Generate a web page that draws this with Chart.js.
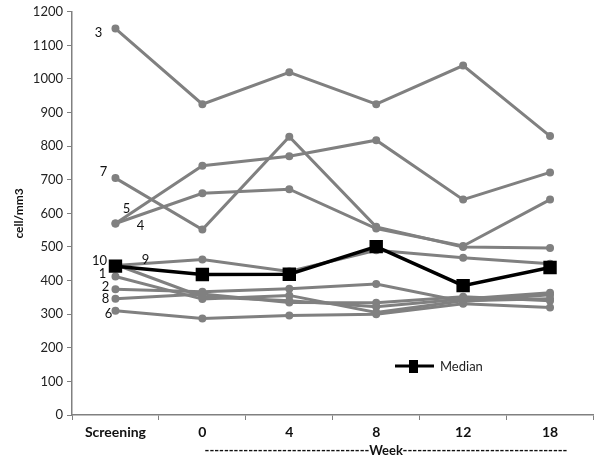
<!DOCTYPE html>
<html>
<head>
<meta charset="utf-8">
<script src="https://cdn.jsdelivr.net/npm/chart.js"></script>
<style>
  html, body { margin: 0; padding: 0; background: #fff; }
  #wrap { position: relative; width: 604px; height: 461px; }
</style>
</head>
<body>
<div id="wrap"><canvas id="chart"></canvas></div>
<script>
const weeks = ["Screening", "0", "4", "8", "12", "18"];

// one series per patient, cell/mm3
const patient3 = [1150, 925, 1020, 925, 1040, 830];
const patient7 = [705, 552, 828, 560, 500, 497];
const patient5 = [570, 742, 770, 818, 641, 722];
const patient4 = [570, 660, 672, 555, 503, 641];
const patient9 = [445, 463, 427, 490, 468, 450];
const patient10 = [448, 352, 340, 322, 345, 364];
const patient1 = [412, 345, 356, 305, 340, 346];
const patient2 = [374, 367, 376, 390, 338, 358];
const patient8 = [346, 360, 335, 334, 352, 340];
const patient6 = [310, 287, 296, 300, 331, 320];
const median = [443, 418, 419, 501, 385, 439];

const yTicks = { min: 0, max: 1200, step: 100 };

const gray = "#808080";
const font = "Lato, 'Open Sans', sans-serif";
const dashes = "-".repeat(34);

// where each patient number sits relative to its first point
const tagOffsets = {
  "3": [-17, 4], "7": [-12, -6], "5": [11, -15], "4": [25, 2],
  "10": [-16, -4], "9": [30, -6], "1": [-13, -3], "2": [-10, -3],
  "8": [-10, 0], "6": [-7, 3]
};

function patient(label, values) {
  return {
    label: label,
    data: values,
    borderColor: gray,
    backgroundColor: gray,
    borderWidth: 3,
    pointRadius: 2.5,
    pointHoverRadius: 2.5,
    tension: 0,
    order: 2
  };
}

const tagPlugin = {
  id: "tags",
  afterDatasetsDraw(chart) {
    const ctx = chart.ctx;
    ctx.save();
    ctx.font = "13px " + font;
    ctx.fillStyle = "#111";
    ctx.textAlign = "center";
    ctx.textBaseline = "middle";
    chart.data.datasets.forEach(function (ds, i) {
      const off = tagOffsets[ds.label];
      if (!off) return;
      const pt = chart.getDatasetMeta(i).data[0];
      ctx.fillText(ds.label, pt.x + off[0], pt.y + off[1]);
    });

    // x axis title, sits right of centre in the original
    ctx.font = "bold 13px " + font;
    ctx.fillText(dashes + "Week" + dashes, 386, 451);

    // legend box for the median
    const lx = 395, ly = 366;
    ctx.strokeStyle = "#000";
    ctx.lineWidth = 3;
    ctx.beginPath();
    ctx.moveTo(lx, ly);
    ctx.lineTo(lx + 39, ly);
    ctx.stroke();
    ctx.fillStyle = "#000";
    ctx.fillRect(lx + 14, ly - 6, 9, 13);
    ctx.fillStyle = "#222";
    ctx.textAlign = "left";
    ctx.font = "13px " + font;
    ctx.fillText("Median", lx + 45, ly + 1);
    ctx.restore();
  }
};

new Chart(document.getElementById("chart").getContext("2d"), {
  type: "line",
  data: {
    labels: weeks,
    datasets: [
      patient("3", patient3),
      patient("7", patient7),
      patient("5", patient5),
      patient("4", patient4),
      patient("9", patient9),
      patient("10", patient10),
      patient("1", patient1),
      patient("2", patient2),
      patient("8", patient8),
      patient("6", patient6),
      {
        label: "Median",
        data: median,
        borderColor: "#000",
        backgroundColor: "#000",
        borderWidth: 3.5,
        pointStyle: "rect",
        pointRadius: 7,
        pointHoverRadius: 7,
        tension: 0,
        order: 1
      }
    ]
  },
  options: {
    responsive: true,
    maintainAspectRatio: false,
    animation: false,
    layout: { padding: { top: 3, right: 3, left: 12, bottom: 2 } },
    plugins: {
      legend: { display: false },
      tooltip: { enabled: false }
    },
    scales: {
      x: {
        offset: true,
        grid: { offset: true, drawOnChartArea: false, drawTicks: true, tickLength: 5, color: gray },
        border: { color: gray, width: 1.5 },
        ticks: { color: "#111", font: { family: font, size: 14, weight: "bold" }, padding: 4, maxRotation: 0 },
        afterFit(scale) { scale.height = 44; }
      },
      y: {
        min: yTicks.min,
        max: yTicks.max,
        ticks: {
          stepSize: yTicks.step,
          color: "#222",
          font: { family: font, size: 13 },
          padding: 4,
          callback: function (v) { return String(v); }
        },
        grid: { drawOnChartArea: false, drawTicks: true, tickLength: 5, color: gray },
        border: { color: gray, width: 1.5 },
        title: {
          display: true,
          text: "cell/mm3",
          color: "#111",
          font: { family: font, size: 12, weight: "bold" },
          padding: { top: 0, bottom: 6 }
        },
        afterFit(scale) { scale.width = 60; }
      }
    }
  },
  plugins: [tagPlugin]
});
</script>
</body>
</html>
